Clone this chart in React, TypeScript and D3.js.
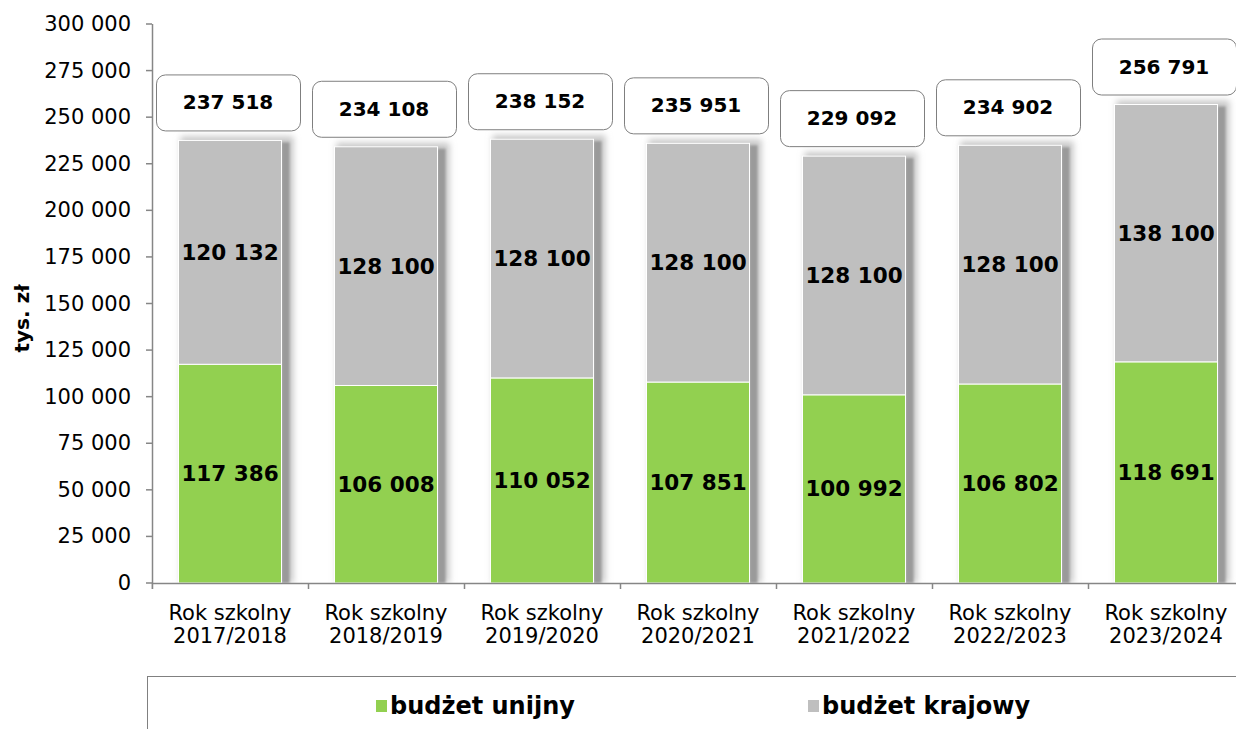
import React from 'react';
import * as d3 from 'd3';

const categories = ['2017/2018', '2018/2019', '2019/2020', '2020/2021', '2021/2022', '2022/2023', '2023/2024'];
const categoryPrefix = 'Rok szkolny';
const euBudget = [117386, 106008, 110052, 107851, 100992, 106802, 118691];
const nationalBudget = [120132, 128100, 128100, 128100, 128100, 128100, 138100];
const totals = [237518, 234108, 238152, 235951, 229092, 234902, 256791];
const yTicks = [0, 25000, 50000, 75000, 100000, 125000, 150000, 175000, 200000, 225000, 250000, 275000, 300000];
const seriesNames = ['budżet unijny', 'budżet krajowy'];
const seriesColors = ['#92D050', '#BFBFBF'];
const yTitle = 'tys. zł';

const W = 1236;
const H = 729;
const FONT = "'DejaVu Sans', Verdana, sans-serif";

const locale = d3.formatLocale({ thousands: ' ', grouping: [3], decimal: ',', currency: ['', ''] });
const fmt = locale.format(',d');

export default function App() {
  const left = 152;
  const step = 156;
  const x = d3.scaleBand<string>().domain(categories).range([left, left + step * categories.length]).padding(0);
  const y = d3.scaleLinear().domain([0, 300000]).range([583, 24]);
  const barW = 103;
  const barOff = (x.bandwidth() - barW) / 2;
  const axisColor = '#868686';
  const boxW = 144;
  const boxH = 56;

  return (
    <svg width={W} height={H} style={{ position: 'absolute', left: 0, top: 0, display: 'block', background: '#fff' }} fontFamily={FONT}>
      <defs>
        <filter id="softBlur" x="-30%" y="-10%" width="160%" height="120%">
          <feGaussianBlur stdDeviation="3" />
        </filter>
        <filter id="stripBlur" x="-100%" y="-5%" width="300%" height="110%">
          <feGaussianBlur stdDeviation="1.2" />
        </filter>
      </defs>
      <rect x={0} y={0} width={W} height={H} fill="#fff" />

      {/* Y axis */}
      <line x1={left + 0.5} x2={left + 0.5} y1={y(300000)} y2={y(0) + 6} stroke={axisColor} strokeWidth={1.5} />
      {yTicks.map((t) => (
        <g key={t}>
          <line x1={left - 6} x2={left} y1={y(t)} y2={y(t)} stroke={axisColor} strokeWidth={1.5} />
          <text x={131} y={y(t)} textAnchor="end" dominantBaseline="central" fontSize={21} fill="#000">
            {fmt(t)}
          </text>
        </g>
      ))}
      <text
        transform={`translate(22,${(y(0) + y(300000)) / 2 + 15}) rotate(-90)`}
        textAnchor="middle"
        dominantBaseline="central"
        fontSize={20}
        fontWeight="bold"
      >
        {yTitle}
      </text>

      {/* Bar shadows */}
      {categories.map((c, i) => {
        const bx = (x(c) as number) + barOff;
        const yTop = y(totals[i]);
        const y0 = y(0);
        return (
          <g key={c}>
            <rect x={bx + 2} y={yTop - 4} width={barW + 10} height={y0 - yTop + 4} fill="#c8c8c8" filter="url(#softBlur)" />
            <rect x={bx + barW} y={yTop + 2} width={8} height={y0 - yTop - 2} fill="#9a9a9a" filter="url(#stripBlur)" />
          </g>
        );
      })}

      {/* Bars */}
      {categories.map((c, i) => {
        const bx = (x(c) as number) + barOff;
        const y0 = y(0);
        const y1 = y(euBudget[i]);
        const y2 = y(euBudget[i] + nationalBudget[i]);
        return (
          <g key={c}>
            <rect x={bx} y={y1} width={barW} height={y0 - y1} fill={seriesColors[0]} stroke="#fff" strokeWidth={1} />
            <rect x={bx} y={y2} width={barW} height={y1 - y2} fill={seriesColors[1]} stroke="#fff" strokeWidth={1} />
          </g>
        );
      })}

      {/* X axis */}
      <rect x={left} y={y(0) + 1} width={W - left} height={20} fill="#fff" />
      <line x1={left} x2={W} y1={y(0) + 0.5} y2={y(0) + 0.5} stroke={axisColor} strokeWidth={1.5} />
      {categories.map((c) => (
        <line key={c} x1={(x(c) as number) + 0.5} x2={(x(c) as number) + 0.5} y1={y(0)} y2={y(0) + 6} stroke={axisColor} strokeWidth={1.5} />
      ))}
      {categories.map((c) => {
        const cx = (x(c) as number) + x.bandwidth() / 2;
        return (
          <text key={c} x={cx} textAnchor="middle" fontSize={21} fill="#000">
            <tspan x={cx} y={620}>{categoryPrefix}</tspan>
            <tspan x={cx} y={643}>{c}</tspan>
          </text>
        );
      })}

      {/* Segment labels */}
      {categories.map((c, i) => {
        const cx = (x(c) as number) + barOff + barW / 2;
        const y0 = y(0);
        const y1 = y(euBudget[i]);
        const y2 = y(euBudget[i] + nationalBudget[i]);
        return (
          <g key={c} fontWeight="bold" fontSize={21.5} textAnchor="middle">
            <text x={cx} y={(y0 + y1) / 2} dominantBaseline="central">{fmt(euBudget[i])}</text>
            <text x={cx} y={(y1 + y2) / 2} dominantBaseline="central">{fmt(nationalBudget[i])}</text>
          </g>
        );
      })}

      {/* Total callouts */}
      {categories.map((c, i) => {
        const cx = (x(c) as number) + barOff + barW / 2 - 2;
        const bottom = y(totals[i]) - 10;
        return (
          <g key={c}>
            <rect x={cx - boxW / 2 + 0.5} y={bottom - boxH + 0.5} width={boxW} height={boxH} rx={9} ry={9} fill="#fff" stroke="#7f7f7f" strokeWidth={1} />
            <text x={cx} y={bottom - boxH / 2} textAnchor="middle" dominantBaseline="central" fontSize={20} fontWeight="bold">
              {fmt(totals[i])}
            </text>
          </g>
        );
      })}

      {/* Legend */}
      <rect x={147.5} y={676.5} width={1200} height={120} fill="#fff" stroke="#808080" strokeWidth={1} />
      {seriesNames.map((s, i) => {
        const lx = [376, 808][i];
        return (
          <g key={s}>
            <rect x={lx} y={700} width={11} height={12} fill={seriesColors[i]} />
            <text x={lx + 14} y={706} dominantBaseline="central" fontSize={24} fontWeight="bold">{s}</text>
          </g>
        );
      })}
    </svg>
  );
}
